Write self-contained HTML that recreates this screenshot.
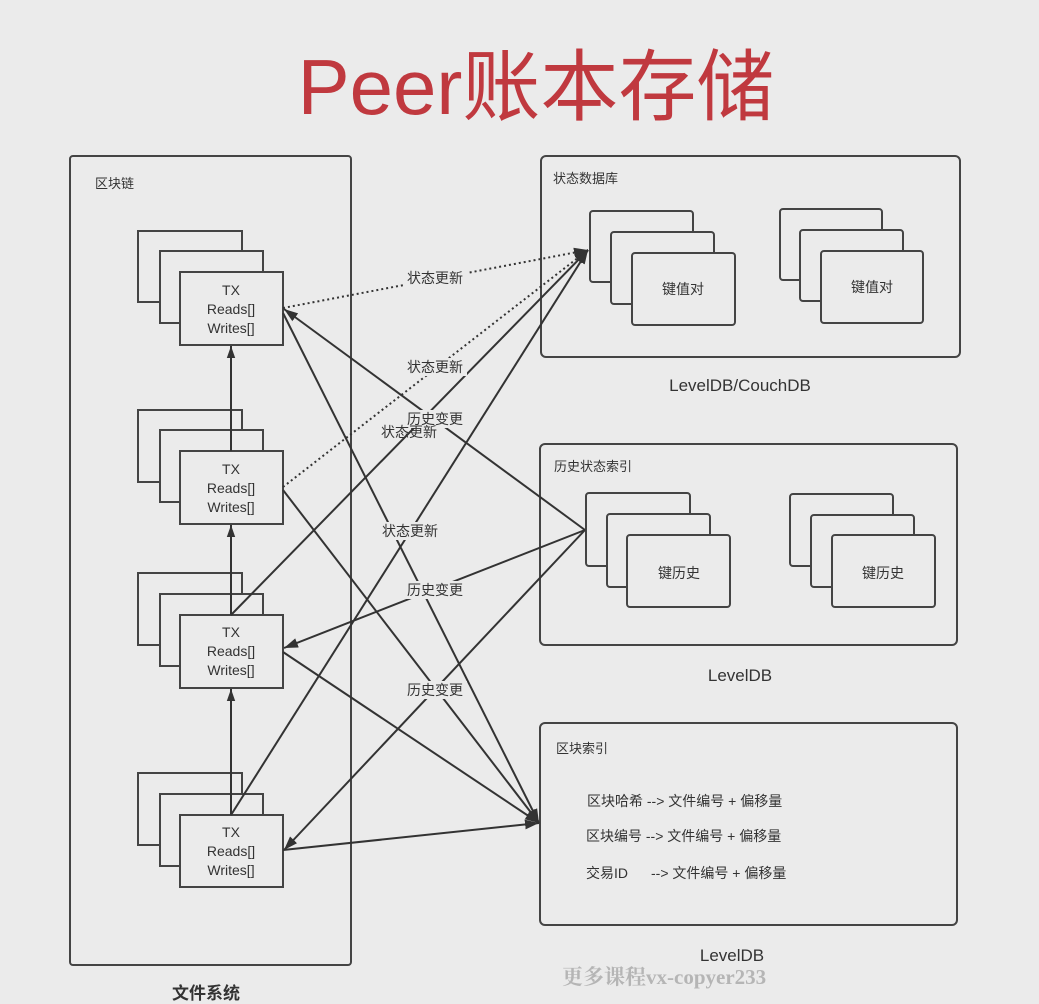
<!DOCTYPE html>
<html><head><meta charset="utf-8"><style>
html,body{margin:0;padding:0;background:#ebebeb;}
svg{display:block;}
text{font-family:"Liberation Sans","Noto Sans CJK SC",sans-serif;fill:#333;}
</style></head><body>
<svg width="1039" height="1004" viewBox="0 0 1039 1004" xmlns="http://www.w3.org/2000/svg">
<defs>
<marker id="a" viewBox="0 0 10 10" refX="10" refY="5" markerWidth="12" markerHeight="12" orient="auto" markerUnits="userSpaceOnUse"><path d="M0,1.5 L10,5 L0,8.5 z" fill="#333"/></marker>
<marker id="b" viewBox="0 0 10 10" refX="10" refY="5" markerWidth="14" markerHeight="14" orient="auto" markerUnits="userSpaceOnUse"><path d="M0,1.5 L10,5 L0,8.5 z" fill="#333"/></marker>
</defs>
<text x="536" y="114" text-anchor="middle" font-size="78" style="fill:#c0393f">Peer账本存储</text>

<g fill="none" stroke="#444" stroke-width="2">
<rect x="70" y="156" width="281" height="809" rx="3"/>
<rect x="541" y="156" width="419" height="201" rx="5"/>
<rect x="540" y="444" width="417" height="201" rx="5"/>
<rect x="540" y="723" width="417" height="202" rx="5"/>
</g>
<text x="95" y="188" font-size="13">区块链</text>
<text x="553" y="183" font-size="13">状态数据库</text>
<text x="554" y="471" font-size="13">历史状态索引</text>
<text x="556" y="753" font-size="13">区块索引</text>
<text x="206" y="999" font-size="17" font-weight="bold" text-anchor="middle">文件系统</text>
<text x="740" y="391" font-size="17" text-anchor="middle">LevelDB/CouchDB</text>
<text x="740" y="681" font-size="17" text-anchor="middle">LevelDB</text>
<text x="732" y="961" font-size="17" text-anchor="middle">LevelDB</text>
<text x="562" y="984" font-size="21" style="fill:#b5b5b5;font-family:'Liberation Serif','Noto Serif CJK SC',serif;font-weight:bold">更多课程vx-copyer233</text>

<text font-size="14" x="587" y="806">区块哈希 --&gt; 文件编号 + 偏移量</text>
<text font-size="14" x="586" y="841">区块编号 --&gt; 文件编号 + 偏移量</text>
<text font-size="14" x="586" y="878">交易ID</text>
<text font-size="14" x="651" y="878">--&gt; 文件编号 + 偏移量</text>

<g fill="#ebebeb" stroke="#444" stroke-width="2">
<rect x="590" y="211" width="103" height="71" rx="3"/>
<rect x="611" y="232" width="103" height="72" rx="3"/>
<rect x="632" y="253" width="103" height="72" rx="3"/>
<rect x="780" y="209" width="102" height="71" rx="3"/>
<rect x="800" y="230" width="103" height="71" rx="3"/>
<rect x="821" y="251" width="102" height="72" rx="3"/>
<rect x="586" y="493" width="104" height="73" rx="3"/>
<rect x="607" y="514" width="103" height="73" rx="3"/>
<rect x="627" y="535" width="103" height="72" rx="3"/>
<rect x="790" y="494" width="103" height="72" rx="3"/>
<rect x="811" y="515" width="103" height="72" rx="3"/>
<rect x="832" y="535" width="103" height="72" rx="3"/>
</g>
<g font-size="14" text-anchor="middle">
<text x="683" y="294">键值对</text>
<text x="872" y="292">键值对</text>
<text x="679" y="578">键历史</text>
<text x="883" y="578">键历史</text>
</g>

<g fill="#ebebeb" stroke="#444" stroke-width="2">
<rect x="138" y="231" width="104" height="71"/><rect x="160" y="251" width="103" height="72"/><rect x="180" y="272" width="103" height="73"/>
<rect x="138" y="410" width="104" height="72"/><rect x="160" y="430" width="103" height="72"/><rect x="180" y="451" width="103" height="73"/>
<rect x="138" y="573" width="104" height="72"/><rect x="160" y="594" width="103" height="72"/><rect x="180" y="615" width="103" height="73"/>
<rect x="138" y="773" width="104" height="72"/><rect x="160" y="794" width="103" height="72"/><rect x="180" y="815" width="103" height="72"/>
</g>
<g font-size="14" text-anchor="middle">
<text x="231" y="295">TX</text><text x="231" y="314">Reads[]</text><text x="231" y="333">Writes[]</text>
<text x="231" y="474">TX</text><text x="231" y="493">Reads[]</text><text x="231" y="512">Writes[]</text>
<text x="231" y="637">TX</text><text x="231" y="656">Reads[]</text><text x="231" y="675">Writes[]</text>
<text x="231" y="837">TX</text><text x="231" y="856">Reads[]</text><text x="231" y="875">Writes[]</text>
</g>

<g stroke="#333" stroke-width="2" fill="none">
<line x1="231" y1="451" x2="231" y2="346" marker-end="url(#a)"/>
<line x1="231" y1="615" x2="231" y2="525" marker-end="url(#a)"/>
<line x1="231" y1="815" x2="231" y2="689" marker-end="url(#a)"/>
<line x1="283" y1="308" x2="588" y2="250" stroke-dasharray="2,3" marker-end="url(#b)"/>
<line x1="283" y1="487" x2="588" y2="250" stroke-dasharray="2,3" marker-end="url(#b)"/>
<line x1="231" y1="615" x2="588" y2="250" marker-end="url(#b)"/>
<line x1="231" y1="815" x2="588" y2="250" marker-end="url(#b)"/>
<line x1="585" y1="530" x2="284" y2="309" marker-end="url(#b)"/>
<line x1="585" y1="530" x2="284" y2="648" marker-end="url(#b)"/>
<line x1="585" y1="530" x2="284" y2="850" marker-end="url(#b)"/>
<line x1="283" y1="313" x2="539" y2="823" marker-end="url(#b)"/>
<line x1="283" y1="490" x2="539" y2="823" marker-end="url(#b)"/>
<line x1="283" y1="652" x2="539" y2="823" marker-end="url(#b)"/>
<line x1="283" y1="850" x2="539" y2="823" marker-end="url(#b)"/>
</g>
<g font-size="14" text-anchor="middle">
<rect x="403" y="269" width="64" height="18" fill="#ebebeb"/><text x="435" y="283">状态更新</text>
<rect x="403" y="358" width="64" height="18" fill="#ebebeb"/><text x="435" y="372">状态更新</text>
<rect x="403" y="410" width="64" height="18" fill="#ebebeb"/><text x="435" y="424">历史变更</text>
<text x="409" y="437">状态更新</text>
<rect x="378" y="522" width="64" height="18" fill="#ebebeb"/><text x="410" y="536">状态更新</text>
<rect x="403" y="581" width="64" height="18" fill="#ebebeb"/><text x="435" y="595">历史变更</text>
<rect x="403" y="681" width="64" height="18" fill="#ebebeb"/><text x="435" y="695">历史变更</text>
</g>
</svg>
</body></html>
